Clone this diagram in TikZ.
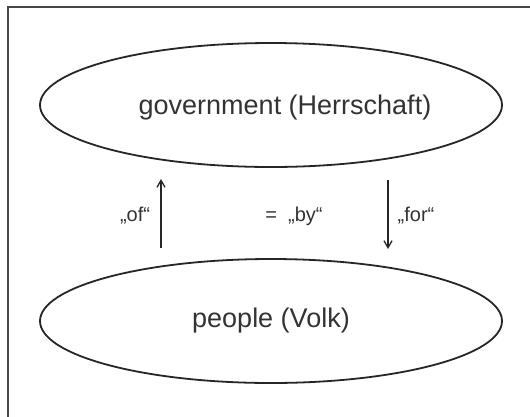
\documentclass[tikz,border=0pt]{standalone}
\usepackage{fontspec}
\setmainfont{Liberation Sans}
\usetikzlibrary{shapes.geometric,arrows.meta}
\begin{document}
\begin{tikzpicture}[x=1pt,y=-1pt,
  ell/.style={draw=black!85,line width=1.8pt,ellipse,inner sep=0pt},
  big/.style={text=black!80,font=\fontsize{27}{32}\selectfont},
  small/.style={text=black!80,font=\fontsize{20}{24}\selectfont},
  arr/.style={draw=black!85,line width=1.3pt,-{Straight Barb[length=7pt,width=8pt,line width=1.3pt]}},
  frame/.style={draw=black!72,line width=2.5pt}]
\useasboundingbox (0,0) rectangle (530,416);
\fill[white] (0,0) rectangle (530,416);
\coordinate (tl) at (8,7);
\coordinate (tr) at (531,7);
\coordinate (bl) at (8,417);
\draw[frame] (tr) -- (tl) -- (bl);
\node[ell,minimum width=462pt,minimum height=124pt] (gov) at (271,105) {};
\node[big] (govt) at (285,108) {government (Herrschaft)};
\node[ell,minimum width=462pt,minimum height=124pt,big] (ppl) at (271,321) {people (Volk)};
\coordinate (a1s) at (161,248);
\coordinate (a1e) at (161,179);
\coordinate (a2s) at (388,180);
\coordinate (a2e) at (388,249);
\draw[arr] (a1s) -- (a1e);
\draw[arr] (a2s) -- (a2e);
\node[small] (of) at (135,216) {„of“};
\node[small] (by) at (294,216) {=\ \ „by“};
\node[small] (for) at (416,216) {„for“};
\end{tikzpicture}
\end{document}
